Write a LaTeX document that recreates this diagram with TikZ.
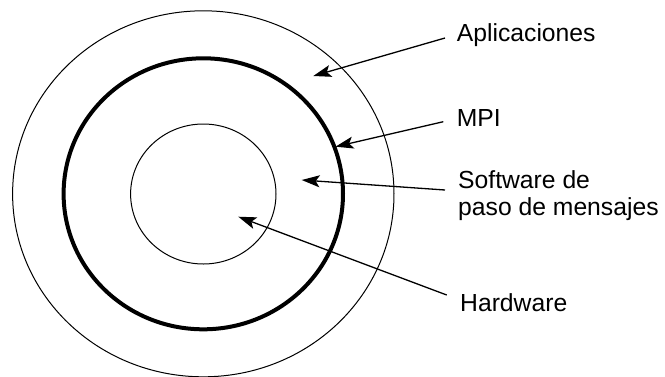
\documentclass[tikz,border=0pt]{standalone}
\usepackage{fontspec}
\setmainfont{Liberation Sans}
\usetikzlibrary{arrows.meta}
\tikzset{
  ring/.style={line width=1pt},
  thickring/.style={line width=4pt},
  pointer/.style={line width=1.3pt,-{Stealth[length=18pt,width=12pt,inset=4pt]}},
  lbl/.style={anchor=base west,inner sep=0pt,font=\fontsize{24.7}{28.3}\selectfont,align=left}
}
\begin{document}
\begin{tikzpicture}[x=1pt,y=-1pt]
\useasboundingbox (0,0) rectangle (665,376);
\draw[ring] (203.3,193.8) ellipse [x radius=190.7, y radius=183];
\draw[thickring] (203.3,193.8) ellipse [x radius=139.7, y radius=135.5];
\draw[ring] (203.3,194) ellipse [x radius=72.7, y radius=70];
\node[lbl] (apl) at (456.7,41.7) {Aplicaciones};
\node[lbl] (mpi) at (456.7,126.7) {MPI};
\node[lbl] (sw) at (458,215) {Software de\\[-1.5pt]paso de mensajes};
\node[lbl] (hw) at (460,311.7) {Hardware};
\coordinate (aplS) at (445,38);
\coordinate (aplT) at (313.3,76);
\coordinate (mpiS) at (443.3,121.7);
\coordinate (mpiT) at (335.5,146.7);
\coordinate (swS) at (445,190);
\coordinate (swT) at (301.7,180);
\coordinate (hwS) at (446.7,295);
\coordinate (hwT) at (238.3,216.7);
\draw[pointer] (aplS) -- (aplT);
\draw[pointer] (mpiS) -- (mpiT);
\draw[pointer] (swS) -- (swT);
\draw[pointer] (hwS) -- (hwT);
\end{tikzpicture}
\end{document}
